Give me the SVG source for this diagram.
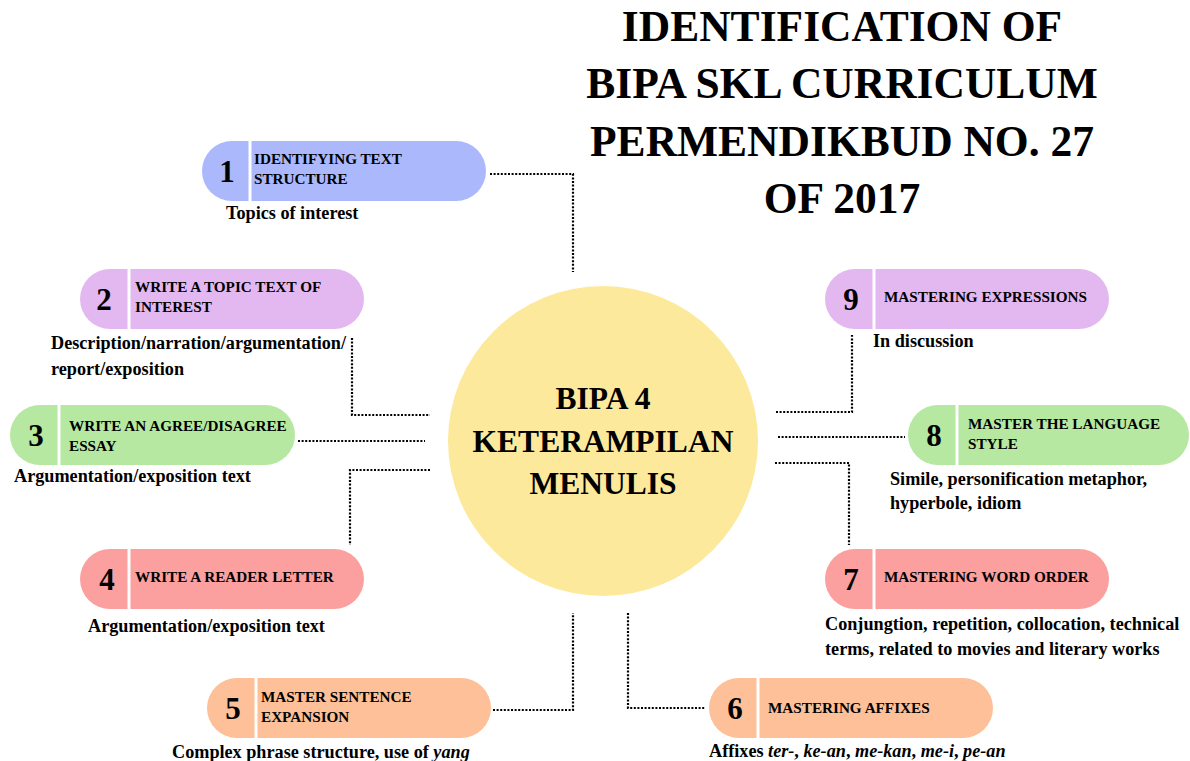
<svg xmlns="http://www.w3.org/2000/svg" width="1190" height="761" viewBox="0 0 1190 761">
<style>
text{font-family:"Liberation Serif","Times New Roman",serif;font-weight:bold;fill:#000}
.title{font-size:43.5px;text-anchor:middle}
.hub{font-size:31.5px;text-anchor:middle}
.num{font-size:31px;text-anchor:middle}
.lbl{font-size:15.2px}
.sub{font-size:18.2px}
.div{stroke:#fff;stroke-width:3}
.conn{fill:none;stroke:#000;stroke-width:2.2;stroke-dasharray:2 1.6}
.c1{fill:#abb8fc}.c2{fill:#e3b8f1}.c3{fill:#b6e8a1}.c4{fill:#fb9f9f}.c5{fill:#fdc098}
</style>
<rect width="1190" height="761" fill="#fff"/>
<g id="title">
<text class="title" x="842" y="41">IDENTIFICATION OF</text>
<text class="title" x="842" y="98">BIPA SKL CURRICULUM</text>
<text class="title" x="842" y="156">PERMENDIKBUD NO. 27</text>
<text class="title" x="842" y="213">OF 2017</text>
</g>
<g id="connectors">
<polyline class="conn" points="490,174 573,174 573,272"/>
<polyline class="conn" points="352,338 352,415 430,415"/>
<polyline class="conn" points="298,441 425,441"/>
<polyline class="conn" points="430,470 350,470 350,545"/>
<polyline class="conn" points="493,710 573,710 573,613"/>
<polyline class="conn" points="628,613 628,708 705,708"/>
<polyline class="conn" points="775,463 849,463 849,545"/>
<polyline class="conn" points="778,437 905,437"/>
<polyline class="conn" points="776,412 852,412 852,335"/>
</g>
<g id="hub">
<circle cx="603" cy="441" r="155" fill="#fde99c"/>
<text class="hub" x="603" y="409">BIPA 4</text>
<text class="hub" x="603" y="452">KETERAMPILAN</text>
<text class="hub" x="603" y="494">MENULIS</text>
</g>
<g id="node1">
<rect class="c1" x="202" y="141" width="284" height="60" rx="30"/>
<line class="div" x1="250" y1="141" x2="250" y2="201"/>
<text class="num" x="227" y="182">1</text>
<text class="lbl" x="254" y="164">IDENTIFYING TEXT</text>
<text class="lbl" x="254" y="184">STRUCTURE</text>
<text class="sub" x="226" y="219">Topics of interest</text>
</g>
<g id="node2">
<rect class="c2" x="80" y="269" width="284" height="60" rx="30"/>
<line class="div" x1="129" y1="269" x2="129" y2="329"/>
<text class="num" x="104" y="310">2</text>
<text class="lbl" x="135" y="292">WRITE A TOPIC TEXT OF</text>
<text class="lbl" x="135" y="312">INTEREST</text>
<text class="sub" x="51" y="349">Description/narration/argumentation/</text>
<text class="sub" x="51" y="375">report/exposition</text>
</g>
<g id="node3">
<rect class="c3" x="10" y="405" width="285" height="60" rx="30"/>
<line class="div" x1="59" y1="405" x2="59" y2="465"/>
<text class="num" x="36" y="446">3</text>
<text class="lbl" x="69" y="431">WRITE AN AGREE/DISAGREE</text>
<text class="lbl" x="69" y="451">ESSAY</text>
<text class="sub" x="14" y="482">Argumentation/exposition text</text>
</g>
<g id="node4">
<rect class="c4" x="80" y="549" width="284" height="60" rx="30"/>
<line class="div" x1="129" y1="549" x2="129" y2="609"/>
<text class="num" x="107" y="590">4</text>
<text class="lbl" x="135" y="582">WRITE A READER LETTER</text>
<text class="sub" x="88" y="632">Argumentation/exposition text</text>
</g>
<g id="node5">
<rect class="c5" x="207" y="678" width="284" height="60" rx="30"/>
<line class="div" x1="256" y1="678" x2="256" y2="738"/>
<text class="num" x="233" y="719">5</text>
<text class="lbl" x="261" y="702">MASTER SENTENCE</text>
<text class="lbl" x="261" y="722">EXPANSION</text>
<text class="sub" x="172" y="758">Complex phrase structure, use of <tspan font-style="italic">yang</tspan></text>
</g>
<g id="node6">
<rect class="c5" x="709" y="678" width="284" height="60" rx="30"/>
<line class="div" x1="758" y1="678" x2="758" y2="738"/>
<text class="num" x="735" y="719">6</text>
<text class="lbl" x="768" y="713">MASTERING AFFIXES</text>
<text class="sub" x="709" y="757">Affixes <tspan font-style="italic">ter-</tspan>, <tspan font-style="italic">ke-an</tspan>, <tspan font-style="italic">me-kan</tspan>, <tspan font-style="italic">me-i</tspan>, <tspan font-style="italic">pe-an</tspan></text>
</g>
<g id="node7">
<rect class="c4" x="825" y="549" width="284" height="60" rx="30"/>
<line class="div" x1="874" y1="549" x2="874" y2="609"/>
<text class="num" x="851" y="590">7</text>
<text class="lbl" x="884" y="582">MASTERING WORD ORDER</text>
<text class="sub" x="825" y="630">Conjungtion, repetition, collocation, technical</text>
<text class="sub" x="825" y="655">terms, related to movies and literary works</text>
</g>
<g id="node8">
<rect class="c3" x="908" y="405" width="281" height="60" rx="30"/>
<line class="div" x1="957" y1="405" x2="957" y2="465"/>
<text class="num" x="934" y="446">8</text>
<text class="lbl" x="968" y="429">MASTER THE LANGUAGE</text>
<text class="lbl" x="968" y="449">STYLE</text>
<text class="sub" x="890" y="485">Simile, personification metaphor,</text>
<text class="sub" x="890" y="509">hyperbole, idiom</text>
</g>
<g id="node9">
<rect class="c2" x="825" y="269" width="284" height="60" rx="30"/>
<line class="div" x1="874" y1="269" x2="874" y2="329"/>
<text class="num" x="851" y="310">9</text>
<text class="lbl" x="884" y="302">MASTERING EXPRESSIONS</text>
<text class="sub" x="873" y="347">In discussion</text>
</g>
</svg>
